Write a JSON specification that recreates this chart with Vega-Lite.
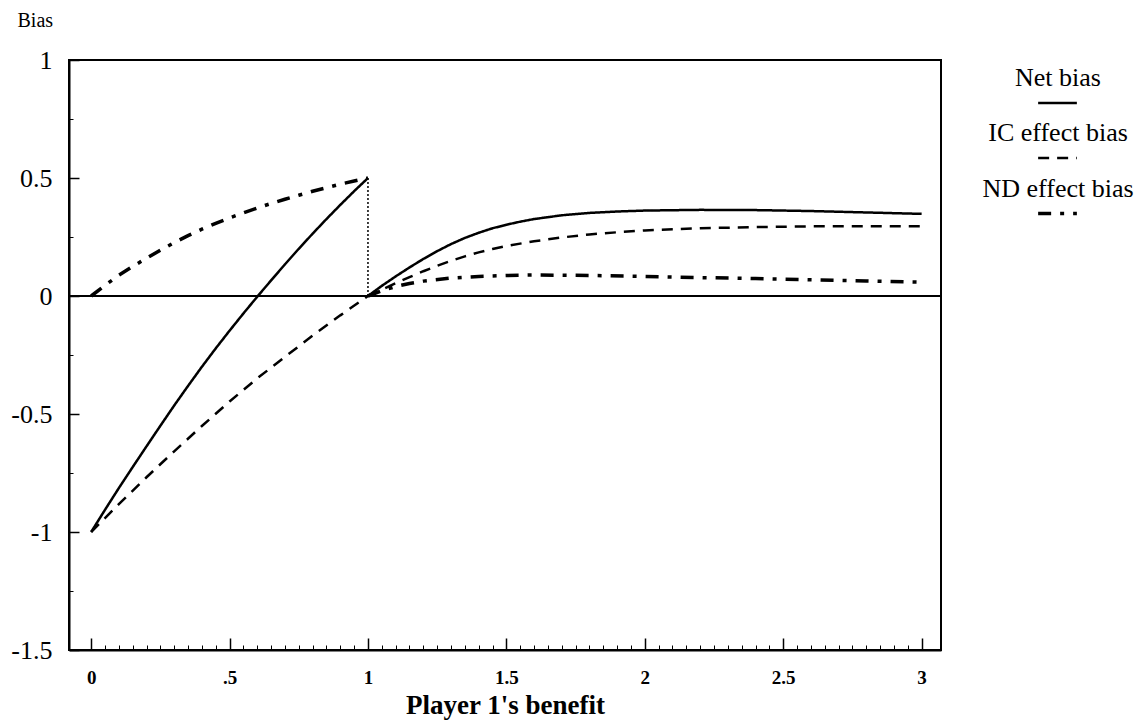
{
  "$schema": "https://vega.github.io/schema/vega-lite/v6.json",
  "width": 872,
  "height": 590,
  "autosize": "none",
  "padding": {"left": 69, "top": 60, "right": 197, "bottom": 74},
  "background": "white",
  "config": {
    "font": "Liberation Serif",
    "view": {"stroke": "black", "strokeWidth": 2},
    "axis": {"labelColor": "black", "titleColor": "black", "tickColor": "black", "domainColor": "black", "grid": false}
  },
  "datasets": {
    "curves": [
      {"series": "Net bias", "seg": "a", "x": 0, "y": -1},
      {"series": "Net bias", "seg": "a", "x": 0.05, "y": -0.906},
      {"series": "Net bias", "seg": "a", "x": 0.1, "y": -0.814},
      {"series": "Net bias", "seg": "a", "x": 0.15, "y": -0.725},
      {"series": "Net bias", "seg": "a", "x": 0.2, "y": -0.637},
      {"series": "Net bias", "seg": "a", "x": 0.25, "y": -0.55},
      {"series": "Net bias", "seg": "a", "x": 0.3, "y": -0.464},
      {"series": "Net bias", "seg": "a", "x": 0.35, "y": -0.381},
      {"series": "Net bias", "seg": "a", "x": 0.4, "y": -0.3},
      {"series": "Net bias", "seg": "a", "x": 0.45, "y": -0.222},
      {"series": "Net bias", "seg": "a", "x": 0.5, "y": -0.147},
      {"series": "Net bias", "seg": "a", "x": 0.55, "y": -0.074},
      {"series": "Net bias", "seg": "a", "x": 0.6, "y": -0.003},
      {"series": "Net bias", "seg": "a", "x": 0.65, "y": 0.066},
      {"series": "Net bias", "seg": "a", "x": 0.7, "y": 0.134},
      {"series": "Net bias", "seg": "a", "x": 0.75, "y": 0.2},
      {"series": "Net bias", "seg": "a", "x": 0.8, "y": 0.264},
      {"series": "Net bias", "seg": "a", "x": 0.85, "y": 0.326},
      {"series": "Net bias", "seg": "a", "x": 0.9, "y": 0.386},
      {"series": "Net bias", "seg": "a", "x": 0.95, "y": 0.444},
      {"series": "Net bias", "seg": "a", "x": 1.0, "y": 0.5},
      {"series": "Net bias", "seg": "b", "x": 1.0, "y": 0},
      {"series": "Net bias", "seg": "b", "x": 1.05, "y": 0.043},
      {"series": "Net bias", "seg": "b", "x": 1.1, "y": 0.083},
      {"series": "Net bias", "seg": "b", "x": 1.15, "y": 0.121},
      {"series": "Net bias", "seg": "b", "x": 1.2, "y": 0.157},
      {"series": "Net bias", "seg": "b", "x": 1.25, "y": 0.19},
      {"series": "Net bias", "seg": "b", "x": 1.3, "y": 0.22},
      {"series": "Net bias", "seg": "b", "x": 1.35, "y": 0.246},
      {"series": "Net bias", "seg": "b", "x": 1.4, "y": 0.268},
      {"series": "Net bias", "seg": "b", "x": 1.45, "y": 0.287},
      {"series": "Net bias", "seg": "b", "x": 1.5, "y": 0.302},
      {"series": "Net bias", "seg": "b", "x": 1.55, "y": 0.315},
      {"series": "Net bias", "seg": "b", "x": 1.6, "y": 0.326},
      {"series": "Net bias", "seg": "b", "x": 1.7, "y": 0.342},
      {"series": "Net bias", "seg": "b", "x": 1.8, "y": 0.352},
      {"series": "Net bias", "seg": "b", "x": 1.9, "y": 0.358},
      {"series": "Net bias", "seg": "b", "x": 2.0, "y": 0.362},
      {"series": "Net bias", "seg": "b", "x": 2.2, "y": 0.365},
      {"series": "Net bias", "seg": "b", "x": 2.4, "y": 0.364},
      {"series": "Net bias", "seg": "b", "x": 2.6, "y": 0.36},
      {"series": "Net bias", "seg": "b", "x": 2.8, "y": 0.354},
      {"series": "Net bias", "seg": "b", "x": 3.0, "y": 0.348},
      {"series": "IC effect bias", "seg": "a", "x": 0, "y": -1},
      {"series": "IC effect bias", "seg": "a", "x": 0.1, "y": -0.882},
      {"series": "IC effect bias", "seg": "a", "x": 0.2, "y": -0.768},
      {"series": "IC effect bias", "seg": "a", "x": 0.3, "y": -0.658},
      {"series": "IC effect bias", "seg": "a", "x": 0.4, "y": -0.551},
      {"series": "IC effect bias", "seg": "a", "x": 0.5, "y": -0.447},
      {"series": "IC effect bias", "seg": "a", "x": 0.6, "y": -0.349},
      {"series": "IC effect bias", "seg": "a", "x": 0.7, "y": -0.258},
      {"series": "IC effect bias", "seg": "a", "x": 0.8, "y": -0.168},
      {"series": "IC effect bias", "seg": "a", "x": 0.9, "y": -0.082},
      {"series": "IC effect bias", "seg": "a", "x": 1.0, "y": 0},
      {"series": "IC effect bias", "seg": "b", "x": 1.0, "y": 0},
      {"series": "IC effect bias", "seg": "b", "x": 1.05, "y": 0.027},
      {"series": "IC effect bias", "seg": "b", "x": 1.1, "y": 0.054},
      {"series": "IC effect bias", "seg": "b", "x": 1.15, "y": 0.08},
      {"series": "IC effect bias", "seg": "b", "x": 1.2, "y": 0.105},
      {"series": "IC effect bias", "seg": "b", "x": 1.25, "y": 0.128},
      {"series": "IC effect bias", "seg": "b", "x": 1.3, "y": 0.149},
      {"series": "IC effect bias", "seg": "b", "x": 1.35, "y": 0.168},
      {"series": "IC effect bias", "seg": "b", "x": 1.4, "y": 0.185},
      {"series": "IC effect bias", "seg": "b", "x": 1.45, "y": 0.199},
      {"series": "IC effect bias", "seg": "b", "x": 1.5, "y": 0.212},
      {"series": "IC effect bias", "seg": "b", "x": 1.6, "y": 0.232},
      {"series": "IC effect bias", "seg": "b", "x": 1.7, "y": 0.248},
      {"series": "IC effect bias", "seg": "b", "x": 1.8, "y": 0.261},
      {"series": "IC effect bias", "seg": "b", "x": 1.9, "y": 0.27},
      {"series": "IC effect bias", "seg": "b", "x": 2.0, "y": 0.278},
      {"series": "IC effect bias", "seg": "b", "x": 2.2, "y": 0.287},
      {"series": "IC effect bias", "seg": "b", "x": 2.4, "y": 0.292},
      {"series": "IC effect bias", "seg": "b", "x": 2.6, "y": 0.295},
      {"series": "IC effect bias", "seg": "b", "x": 2.8, "y": 0.296},
      {"series": "IC effect bias", "seg": "b", "x": 3.0, "y": 0.296},
      {"series": "ND effect bias", "seg": "a", "x": 0, "y": 0},
      {"series": "ND effect bias", "seg": "a", "x": 0.05, "y": 0.045},
      {"series": "ND effect bias", "seg": "a", "x": 0.1, "y": 0.088},
      {"series": "ND effect bias", "seg": "a", "x": 0.15, "y": 0.125},
      {"series": "ND effect bias", "seg": "a", "x": 0.2, "y": 0.16},
      {"series": "ND effect bias", "seg": "a", "x": 0.25, "y": 0.194},
      {"series": "ND effect bias", "seg": "a", "x": 0.3, "y": 0.226},
      {"series": "ND effect bias", "seg": "a", "x": 0.35, "y": 0.256},
      {"series": "ND effect bias", "seg": "a", "x": 0.4, "y": 0.283},
      {"series": "ND effect bias", "seg": "a", "x": 0.45, "y": 0.308},
      {"series": "ND effect bias", "seg": "a", "x": 0.5, "y": 0.331},
      {"series": "ND effect bias", "seg": "a", "x": 0.55, "y": 0.352},
      {"series": "ND effect bias", "seg": "a", "x": 0.6, "y": 0.373},
      {"series": "ND effect bias", "seg": "a", "x": 0.65, "y": 0.392},
      {"series": "ND effect bias", "seg": "a", "x": 0.7, "y": 0.41},
      {"series": "ND effect bias", "seg": "a", "x": 0.75, "y": 0.427},
      {"series": "ND effect bias", "seg": "a", "x": 0.8, "y": 0.444},
      {"series": "ND effect bias", "seg": "a", "x": 0.85, "y": 0.459},
      {"series": "ND effect bias", "seg": "a", "x": 0.9, "y": 0.474},
      {"series": "ND effect bias", "seg": "a", "x": 0.95, "y": 0.487},
      {"series": "ND effect bias", "seg": "a", "x": 1.0, "y": 0.5},
      {"series": "ND effect bias", "seg": "b", "x": 1.0, "y": 0},
      {"series": "ND effect bias", "seg": "b", "x": 1.05, "y": 0.022},
      {"series": "ND effect bias", "seg": "b", "x": 1.1, "y": 0.04},
      {"series": "ND effect bias", "seg": "b", "x": 1.15, "y": 0.053},
      {"series": "ND effect bias", "seg": "b", "x": 1.2, "y": 0.063},
      {"series": "ND effect bias", "seg": "b", "x": 1.3, "y": 0.076},
      {"series": "ND effect bias", "seg": "b", "x": 1.4, "y": 0.083},
      {"series": "ND effect bias", "seg": "b", "x": 1.5, "y": 0.087},
      {"series": "ND effect bias", "seg": "b", "x": 1.6, "y": 0.089},
      {"series": "ND effect bias", "seg": "b", "x": 1.8, "y": 0.087},
      {"series": "ND effect bias", "seg": "b", "x": 2.0, "y": 0.083},
      {"series": "ND effect bias", "seg": "b", "x": 2.2, "y": 0.078},
      {"series": "ND effect bias", "seg": "b", "x": 2.4, "y": 0.074},
      {"series": "ND effect bias", "seg": "b", "x": 2.6, "y": 0.069},
      {"series": "ND effect bias", "seg": "b", "x": 2.8, "y": 0.064},
      {"series": "ND effect bias", "seg": "b", "x": 3.0, "y": 0.059}
    ],
    "jump": [
      {"x": 1, "y": 0, "y2": 0.5}
    ]
  },
  "data": {"name": "jump"},
  "layer": [
    {
      "data": {"name": "curves"},
      "mark": {"type": "line", "color": "black"},
      "encoding": {
        "x": {
          "field": "x", "type": "quantitative",
          "scale": {"domain": [-0.08, 3.07], "nice": false, "zero": false},
          "axis": {
            "orient": "bottom",
            "values": [0, 0.5, 1, 1.5, 2, 2.5, 3],
            "labelExpr": "datum.value == 0.5 ? '.5' : '' + datum.value",
            "tickSize": -12, "tickWidth": 1.5,
            "domainWidth": 2,
            "labelPadding": 30,
            "labelFont": "Liberation Serif", "labelFontSize": 19, "labelFontWeight": "bold",
            "title": "Player 1's benefit",
            "titleFont": "Liberation Serif", "titleFontSize": 27, "titleFontWeight": "bold",
            "titlePadding": 5
          }
        },
        "y": {
          "field": "y", "type": "quantitative",
          "scale": {"domain": [-1.5, 1], "nice": false, "zero": false},
          "axis": {
            "orient": "left",
            "values": [-1.5, -1, -0.5, 0, 0.5, 1],
            "labelExpr": "'' + datum.value",
            "tickSize": -10, "tickWidth": 1.5,
            "domainWidth": 2,
            "labelPadding": 27,
            "labelFont": "Liberation Serif", "labelFontSize": 26,
            "title": "Bias",
            "titleFont": "Liberation Serif", "titleFontSize": 20, "titleFontWeight": "normal",
            "titleAngle": 0, "titleAlign": "left", "titleBaseline": "middle",
            "titleX": -52, "titleY": -40
          }
        },
        "detail": {"field": "seg"},
        "strokeDash": {
          "field": "series", "type": "nominal",
          "scale": {"domain": ["Net bias", "IC effect bias", "ND effect bias"], "range": [[1, 0], [11, 8], [13, 9, 4, 9]]},
          "legend": {
            "orient": "none", "legendX": 967, "legendY": 22,
            "title": null,
            "symbolType": "stroke", "symbolSize": 1500, "symbolStrokeColor": "black", "symbolStrokeWidth": 2.5,
            "labelFont": "Liberation Serif", "labelFontSize": 26, "labelColor": "black",
            "labelAlign": "center", "labelOffset": -21, "labelLimit": 400,
            "rowPadding": 12,
            "encode": {"labels": {"update": {"dy": {"value": -25}}}}
          }
        },
        "strokeWidth": {
          "field": "series", "type": "nominal",
          "scale": {"type": "ordinal", "domain": ["Net bias", "IC effect bias", "ND effect bias"], "range": [2.5, 2.5, 3.5]},
          "legend": null
        }
      }
    },
    {
      "mark": {"type": "rule", "color": "black", "strokeDash": [2, 2], "strokeWidth": 1.5},
      "encoding": {
        "x": {
          "field": "x", "type": "quantitative",
          "axis": {
            "orient": "bottom",
            "values": [0.05, 0.1, 0.15, 0.2, 0.25, 0.3, 0.35, 0.4, 0.45, 0.55, 0.6, 0.65, 0.7, 0.75, 0.8, 0.85, 0.9, 0.95, 1.05, 1.1, 1.15, 1.2, 1.25, 1.3, 1.35, 1.4, 1.45, 1.55, 1.6, 1.65, 1.7, 1.75, 1.8, 1.85, 1.9, 1.95, 2.05, 2.1, 2.15, 2.2, 2.25, 2.3, 2.35, 2.4, 2.45, 2.55, 2.6, 2.65, 2.7, 2.75, 2.8, 2.85, 2.9, 2.95],
            "tickSize": -5, "tickWidth": 1,
            "labels": false, "domain": false, "title": null
          }
        },
        "y": {
          "field": "y", "type": "quantitative",
          "axis": {
            "orient": "left",
            "values": [-1.25, -0.75, -0.25, 0.25, 0.75],
            "tickSize": -4, "tickWidth": 1,
            "labels": false, "domain": false, "title": null
          }
        },
        "y2": {"field": "y2"}
      }
    },
    {
      "mark": {"type": "rule", "color": "black", "strokeWidth": 2},
      "encoding": {
        "y": {"datum": 0, "type": "quantitative", "axis": null}
      }
    }
  ],
  "resolve": {"axis": {"x": "independent", "y": "independent"}}
}
